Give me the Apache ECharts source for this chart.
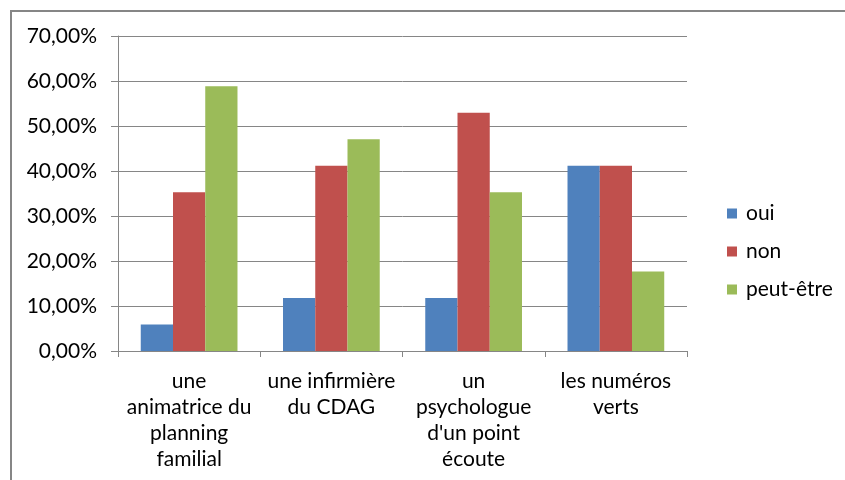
<!DOCTYPE html>
<html>
<head>
<meta charset="utf-8">
<script src="https://cdn.jsdelivr.net/npm/echarts@6/dist/echarts.min.js"></script>
<style>
  html, body { margin: 0; padding: 0; background: #fff; }
  #frame { position: absolute; left: 10px; top: 10px; width: 845px; height: 480px;
           border-top: 2px solid #868686; border-left: 2px solid #868686; }
  #chart { position: absolute; left: 0; top: 0; width: 845px; height: 480px; }
</style>
</head>
<body>
<div id="frame"></div>
<div id="chart"></div>
<script>
const categories = [
  'une\nanimatrice du\nplanning\nfamilial',
  'une infirmière\ndu CDAG',
  'un\npsychologue\nd\'un point\nécoute',
  'les numéros\nverts',
];
const seriesNames = ['oui', 'non', 'peut-être'];
const oui = [5.88, 11.76, 11.76, 41.18];
const non = [35.29, 41.18, 52.94, 41.18];
const peutEtre = [58.82, 47.06, 35.29, 17.65];
const yTicks = [0, 10, 20, 30, 40, 50, 60, 70];

const colors = ['#4f81bd', '#c0504d', '#9bbb59'];
const font = 'Lato';
const fontSize = 21;

const chart = echarts.init(document.getElementById('chart'));

const makeSeries = (name, data, i) => ({
  name,
  type: 'bar',
  data,
  barGap: 0,
  barCategoryGap: '32%',
  itemStyle: { color: colors[i] },
});

chart.setOption({
  animation: false,
  backgroundColor: 'transparent',
  textStyle: { fontFamily: font },
  grid: { left: 118, right: 158, top: 36, bottom: 129, containLabel: false },
  legend: {
    orient: 'vertical',
    left: 722,
    top: 198,
    itemWidth: 10,
    itemHeight: 10,
    itemGap: 17,
    icon: 'rect',
    textStyle: { fontFamily: font, fontSize: fontSize, color: '#000', padding: [0, 0, 0, 4] },
    data: seriesNames,
  },
  xAxis: {
    type: 'category',
    data: categories,
    axisLine: { lineStyle: { color: '#868686', width: 1 } },
    axisTick: { show: true, length: 6, alignWithLabel: false, lineStyle: { color: '#868686' } },
    axisLabel: {
      interval: 0,
      margin: 17,
      fontFamily: font,
      fontSize: fontSize,
      lineHeight: 26,
      color: '#000',
    },
  },
  yAxis: {
    type: 'value',
    min: 0,
    max: 70,
    interval: 10,
    axisLine: { show: true, lineStyle: { color: '#868686' } },
    axisTick: { show: true, length: 7, lineStyle: { color: '#868686' } },
    splitLine: { lineStyle: { color: '#868686', width: 1 } },
    axisLabel: {
      margin: 21,
      fontFamily: font,
      fontSize: fontSize,
      color: '#000',
      formatter: (v) => yTicks.includes(v) ? v.toFixed(2).replace('.', ',') + '%' : '',
    },
  },
  series: [
    makeSeries(seriesNames[0], oui, 0),
    makeSeries(seriesNames[1], non, 1),
    makeSeries(seriesNames[2], peutEtre, 2),
  ],
});
</script>
</body>
</html>
